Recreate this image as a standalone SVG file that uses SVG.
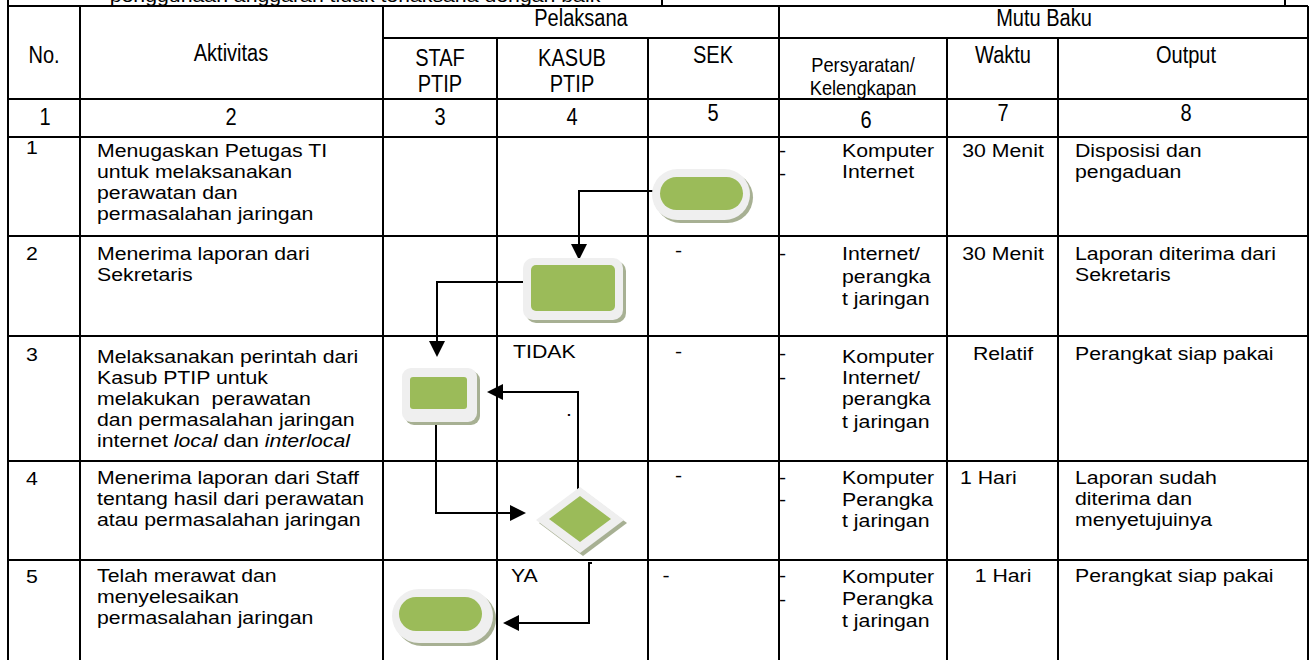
<svg xmlns="http://www.w3.org/2000/svg" width="1310" height="660" viewBox="0 0 1310 660">
<style>
.grid{stroke:#000;stroke-width:2;fill:none}
.b{font-family:"Liberation Sans",Arial,sans-serif;font-size:18.5px;fill:#000}
.h{font-family:"Liberation Sans",Arial,sans-serif;font-size:23px;fill:#000}
.hs{font-size:21px}
.c{text-anchor:middle}
.conn{stroke:#000;stroke-width:2;fill:none;marker-end:url(#arr)}
.sh{fill:#a7b093}
.fr{fill:#efefef}
.gr{fill:#9bbb59}
</style>
<defs>
<marker id="arr" markerUnits="userSpaceOnUse" markerWidth="16" markerHeight="16" viewBox="0 0 16 16" refX="12" refY="8" orient="auto">
<path d="M0,0 L16,8 L0,16 z" fill="#000"/>
</marker>
</defs>
<rect width="1310" height="660" fill="#fff"/>
<g id="table" class="grid">
<path d="M8 0V6M662 0V6M1285 0V6"/>
<path d="M8 6H1308M383 38H1308M8 99H1308M8 137H1308M8 236H1308M8 336H1308M8 461H1308M8 560H1308"/>
<path d="M8 6V660M80 6V660M383 6V660M779 6V660M1308 6V660M497 38V660M648 38V660M947 38V660M1058 38V660"/>
</g>
<g id="header-text" class="h c" transform="scale(0.87 1)">
<text x="667.8" y="26">Pelaksana</text>
<text x="1200" y="26">Mutu Baku</text>
<text x="50.6" y="63">No.</text>
<text x="265.5" y="61">Aktivitas</text>
<text x="505.7" y="66">STAF</text>
<text x="505.7" y="92">PTIP</text>
<text x="657.5" y="66">KASUB</text>
<text x="657.5" y="92">PTIP</text>
<text x="819.5" y="63">SEK</text>
<text x="992" y="72" class="hs">Persyaratan/</text>
<text x="992" y="95" class="hs">Kelengkapan</text>
<text x="1152.9" y="63">Waktu</text>
<text x="1363.2" y="63">Output</text>
<text x="51.7" y="125">1</text>
<text x="265.5" y="125">2</text>
<text x="505.7" y="125">3</text>
<text x="657.5" y="125">4</text>
<text x="819.5" y="121">5</text>
<text x="995.4" y="128">6</text>
<text x="1152.9" y="121">7</text>
<text x="1363.2" y="121">8</text>
</g>
<g id="body-text" class="b" transform="scale(1.15 1)">
<text x="308.7" y="2" class="c">penggunaan anggaran tidak terlaksana dengan baik</text>
<text x="22.6" y="154">1</text>
<text x="22.6" y="260">2</text>
<text x="22.6" y="361">3</text>
<text x="22.6" y="485">4</text>
<text x="22.6" y="583">5</text>
<text x="84.35" y="157">Menugaskan Petugas TI</text>
<text x="84.35" y="178">untuk melaksanakan</text>
<text x="84.35" y="199">perawatan dan</text>
<text x="84.35" y="220">permasalahan jaringan</text>
<text x="84.35" y="260">Menerima laporan dari</text>
<text x="84.35" y="281">Sekretaris</text>
<text x="84.35" y="363">Melaksanakan perintah dari</text>
<text x="84.35" y="384">Kasub PTIP untuk</text>
<text x="84.35" y="405" xml:space="preserve">melakukan  perawatan</text>
<text x="84.35" y="426">dan permasalahan jaringan</text>
<text x="84.35" y="447">internet <tspan font-style="italic">local</tspan> dan <tspan font-style="italic">interlocal</tspan></text>
<text x="84.35" y="484">Menerima laporan dari Staff</text>
<text x="84.35" y="505">tentang hasil dari perawatan</text>
<text x="84.35" y="526">atau permasalahan jaringan</text>
<text x="84.35" y="582">Telah merawat dan</text>
<text x="84.35" y="603">menyelesaikan</text>
<text x="84.35" y="624">permasalahan jaringan</text>
<text x="446.1" y="358">TIDAK</text>
<text x="444.3" y="582">YA</text>
<text x="492.2" y="416">.</text>
<text x="587" y="257">-</text>
<text x="587" y="358">-</text>
<text x="587" y="482">-</text>
<text x="576" y="582">-</text>
<text x="677.4" y="157">-</text>
<text x="677.4" y="180">-</text>
<text x="677.4" y="260">-</text>
<text x="677.4" y="360">-</text>
<text x="677.4" y="384">-</text>
<text x="677.4" y="484">-</text>
<text x="677.4" y="506">-</text>
<text x="677.4" y="582">-</text>
<text x="677.4" y="606">-</text>
<text x="732.2" y="157">Komputer</text>
<text x="732.2" y="178">Internet</text>
<text x="732.2" y="260">Internet/</text>
<text x="732.2" y="283">perangka</text>
<text x="732.2" y="305">t jaringan</text>
<text x="732.2" y="363">Komputer</text>
<text x="732.2" y="384">Internet/</text>
<text x="732.2" y="405">perangka</text>
<text x="732.2" y="428">t jaringan</text>
<text x="732.2" y="484">Komputer</text>
<text x="732.2" y="506">Perangka</text>
<text x="732.2" y="527">t jaringan</text>
<text x="732.2" y="583">Komputer</text>
<text x="732.2" y="605">Perangka</text>
<text x="732.2" y="627">t jaringan</text>
<text x="872.2" y="157" class="c">30 Menit</text>
<text x="872.2" y="260" class="c">30 Menit</text>
<text x="872.2" y="360" class="c">Relatif</text>
<text x="834.8" y="484">1 Hari</text>
<text x="872.2" y="582" class="c">1 Hari</text>
<text x="934.8" y="157">Disposisi dan</text>
<text x="934.8" y="178">pengaduan</text>
<text x="934.8" y="260">Laporan diterima dari</text>
<text x="934.8" y="281">Sekretaris</text>
<text x="934.8" y="360">Perangkat siap pakai</text>
<text x="934.8" y="484">Laporan sudah</text>
<text x="934.8" y="505">diterima dan</text>
<text x="934.8" y="526">menyetujuinya</text>
<text x="934.8" y="582">Perangkat siap pakai</text>
</g>
<g id="connectors">
<path class="conn" d="M657 191H579V256"/>
<path class="conn" d="M528 282H437V353"/>
<path class="conn" d="M436 413V513H522"/>
<path class="conn" d="M578 492V392H491"/>
<path class="conn" d="M592 563H589V623H507"/>
</g>
<g id="node-start">
<rect class="sh" x="655" y="172" width="98" height="51" rx="25.5"/>
<rect class="fr" x="652" y="169" width="98" height="51" rx="25.5"/>
<rect class="gr" x="660" y="177" width="83" height="33" rx="16.5"/>
</g>
<g id="node-kasub">
<rect class="sh" x="526" y="261" width="100" height="62" rx="10"/>
<rect class="fr" x="523" y="258" width="100" height="62" rx="10"/>
<rect class="gr" x="531" y="265" width="84" height="46" rx="5"/>
</g>
<g id="node-staf">
<rect class="sh" x="405" y="371" width="75" height="54" rx="9"/>
<rect class="fr" x="402" y="368" width="75" height="54" rx="9"/>
<rect class="gr" x="410" y="377" width="57" height="32" rx="3"/>
</g>
<g id="node-decision">
<polygon class="sh" points="539,523 583,490 627,523 583,556"/>
<polygon class="fr" points="536,520 580,487 624,520 580,553"/>
<polygon class="gr" points="549,519 580,496 611,519 580,542"/>
</g>
<g id="node-end">
<rect class="sh" x="395" y="592" width="101" height="54" rx="27"/>
<rect class="fr" x="392" y="589" width="101" height="54" rx="27"/>
<rect class="gr" x="399" y="597" width="83" height="34" rx="17"/>
</g>
</svg>
